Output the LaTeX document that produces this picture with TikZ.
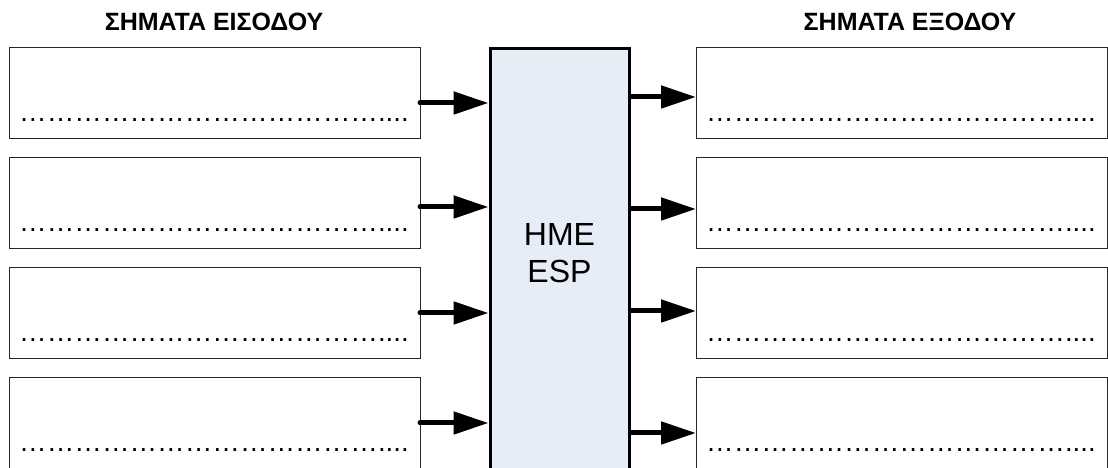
\documentclass[tikz,border=0pt]{standalone}
\usepackage{fontspec}
\setmainfont{Liberation Sans}
\usepackage{tikz}
\usetikzlibrary{arrows.meta,positioning,calc}

\definecolor{hmefill}{RGB}{230,237,247}
\newcommand{\ldt}{…}
\newcommand{\dotrow}{\ldt\ldt\ldt\ldt\ldt\ldt\ldt\ldt\ldt\ldt\ldt\ldt\ldt....}

\tikzset{
  sigbox/.style={draw=black!85, line width=1pt, minimum width=411pt,
    minimum height=91pt, inner sep=0pt, outer sep=0pt, anchor=north west},
  dotline/.style={font=\fontsize{27.6}{30}\selectfont, inner sep=0pt, anchor=base west},
  sigarrow/.style={line width=5pt, line cap=round,
    -{Triangle[length=35pt,width=22pt]}},
  title/.style={font=\fontsize{25}{29}\selectfont\bfseries, inner sep=0pt, anchor=base}
}

\begin{document}
\begin{tikzpicture}[x=1pt,y=1pt,>=Latex]
    \clip (0,0) rectangle (1108,468);

    % Titles
    \node[title] (intitle) at (214,437) {ΣΗΜΑΤΑ ΕΙΣΟΔΟΥ};
    \node[title] (outtitle) at (910,437) {ΣΗΜΑΤΑ ΕΞΟΔΟΥ};

    % Central unit
    \node[draw=black, line width=3pt, fill=hmefill, minimum width=139pt,
          minimum height=460pt, inner sep=0pt, anchor=north] (hme) at (559.5,421) {};
    \node[font=\fontsize{32}{37}\selectfont, align=center, inner sep=0pt]
          (hmetext) at (559.5,214.5) {HME\\ESP};

    % Signal boxes with dotted lines
    \foreach \n/\top in {1/420.3,2/310.2,3/200.1,4/90} {
        \node[sigbox] (in\n) at (9,\top) {};
        \node[sigbox] (out\n) at (696,\top) {};
        \node[dotline] (indots\n) at ([shift={(10,17)}]in\n.south west) {\dotrow};
        \node[dotline] (outdots\n) at ([shift={(10,17)}]out\n.south west) {\dotrow};
    }

    % Arrows in and out
    \foreach \n/\ya/\yb in {1/365/371,2/261/259,3/155/157,4/45/35} {
        \draw[sigarrow] (in\n.east |- 0,\ya) -- (hme.west |- 0,\ya);
        \draw[sigarrow] (hme.east |- 0,\yb) -- (out\n.west |- 0,\yb);
    }
\end{tikzpicture}
\end{document}
